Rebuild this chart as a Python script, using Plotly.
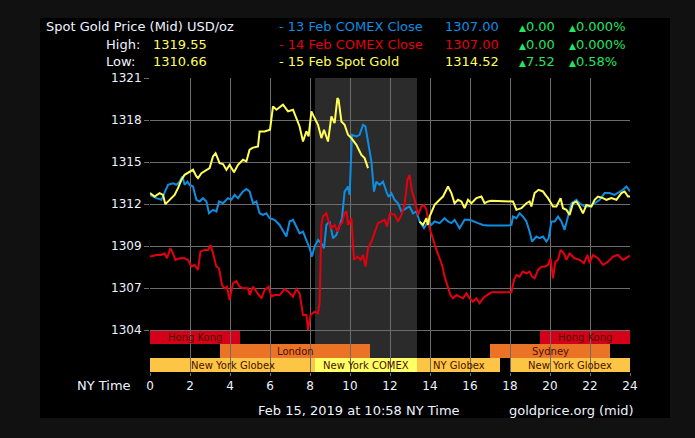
import plotly.graph_objects as go

# ---------------- data ----------------
blue_hours = [0.0, 0.32, 0.57, 0.73, 0.9, 1.15, 1.32, 1.48, 1.62, 1.73, 1.87, 1.98, 2.15, 2.32, 2.48, 2.65, 2.82,
              2.95, 3.15, 3.32, 3.45, 3.65, 3.9, 4.07, 4.23, 4.4, 4.65, 4.82, 4.98, 5.15, 5.32, 5.48, 5.65, 5.82,
              5.98, 6.23, 6.48, 6.82, 6.98, 7.15, 7.32, 7.48, 7.65, 7.82, 7.98, 8.1, 8.23, 8.4, 8.57, 8.7, 8.82,
              8.98, 9.15, 9.32, 9.48, 9.6, 9.73, 9.9, 9.98, 10.1, 10.32, 10.48, 10.65, 10.77, 10.9, 11.07, 11.2,
              11.32, 11.48, 11.65, 11.82, 11.93, 12.07, 12.23, 12.4, 12.57, 12.82, 12.98, 13.15, 13.32, 13.48,
              13.7, 13.9, 14.07, 14.23, 14.48, 14.73, 14.9, 15.07, 15.23, 15.48, 15.73, 15.98, 16.15, 16.4, 16.65,
              16.9, 17.9, 18.07, 18.15, 18.32, 18.48, 18.65, 18.82, 18.98, 19.1, 19.32, 19.48, 19.65, 19.82, 19.93,
              20.07, 20.23, 20.4, 20.57, 20.73, 20.9, 21.07, 21.32, 21.48, 21.73, 21.98, 22.23, 22.48, 22.73, 22.98,
              23.23, 23.48, 23.65, 23.82, 24.0]
blue_values = [1312.74, 1312.52, 1312.41, 1312.86, 1313.41, 1313.52, 1313.41, 1313.63, 1313.97, 1313.41, 1313.63,
               1313.41, 1313.3, 1312.41, 1312.3, 1312.52, 1312.3, 1311.51, 1311.74, 1311.63, 1312.3, 1312.18,
               1312.52, 1312.41, 1312.74, 1312.52, 1312.97, 1313.14, 1312.97, 1312.18, 1312.3, 1311.51, 1311.4,
               1311.51, 1311.18, 1311.07, 1310.73, 1309.95, 1310.96, 1311.07, 1310.62, 1310.17, 1310.28, 1309.73,
               1309.17, 1308.61, 1309.28, 1309.73, 1309.5, 1309.17, 1310.73, 1310.96, 1309.84, 1310.06, 1310.73,
               1311.18, 1312.96, 1313.3, 1312.74, 1316.76, 1316.65, 1316.76, 1317.43, 1317.32, 1316.31, 1314.97,
               1312.96, 1313.63, 1313.41, 1313.63, 1312.96, 1312.6, 1312.86, 1312.41, 1312.18, 1311.63, 1311.85,
               1311.96, 1311.51, 1311.63, 1310.96, 1310.51, 1310.96, 1310.73, 1310.96, 1310.85, 1311.18, 1310.96,
               1310.85, 1311.07, 1310.51, 1311.07, 1311.07, 1310.96, 1310.85, 1310.73, 1310.69, 1310.69, 1310.73,
               1311.29, 1311.18, 1311.51, 1311.29, 1310.96, 1310.29, 1309.62, 1309.95, 1309.84, 1309.95, 1309.62,
               1309.84, 1310.96, 1310.96, 1311.29, 1310.96, 1310.4, 1311.29, 1312.18, 1312.41, 1312.18, 1311.96,
               1311.96, 1312.18, 1312.41, 1312.86, 1312.86, 1312.74, 1312.97, 1313.08, 1313.3, 1312.97]

red_hours = [0.0, 0.32, 0.57, 0.73, 0.85, 1.02, 1.15, 1.27, 1.48, 1.73, 1.9, 2.07, 2.23, 2.4, 2.52, 2.73, 2.9, 3.03,
             3.15, 3.32, 3.45, 3.6, 3.73, 3.85, 3.98, 4.15, 4.32, 4.48, 4.65, 4.9, 4.98, 5.15, 5.32, 5.57, 5.73,
             5.93, 6.07, 6.23, 6.48, 6.73, 6.9, 7.15, 7.32, 7.48, 7.65, 7.82, 7.9, 8.03, 8.23, 8.4, 8.48, 8.57,
             8.65, 8.82, 8.93, 9.07, 9.23, 9.37, 9.48, 9.6, 9.73, 9.83, 9.9, 10.07, 10.2, 10.37, 10.53, 10.65,
             10.78, 10.9, 11.07, 11.23, 11.4, 11.57, 11.73, 11.85, 12.0, 12.23, 12.4, 12.57, 12.73, 12.87, 12.98,
             13.1, 13.23, 13.4, 13.57, 13.7, 13.82, 13.98, 14.15, 14.32, 14.48, 14.6, 14.73, 14.9, 15.02, 15.15,
             15.32, 15.48, 15.65, 15.82, 15.98, 16.15, 16.32, 16.48, 16.65, 16.82, 17.07, 18.07, 18.2, 18.32,
             18.48, 18.65, 18.82, 18.98, 19.1, 19.23, 19.4, 19.57, 19.73, 19.9, 20.03, 20.15, 20.27, 20.4, 20.53,
             20.7, 20.82, 20.98, 21.23, 21.48, 21.7, 21.87, 21.98, 22.15, 22.4, 22.65, 22.9, 23.15, 23.4, 23.65,
             23.9, 24.0]
red_values = [1308.61, 1308.72, 1308.72, 1308.83, 1308.5, 1309.17, 1308.83, 1308.39, 1308.5, 1308.5, 1308.39,
              1307.94, 1308.05, 1307.72, 1308.94, 1309.06, 1309.06, 1309.39, 1308.83, 1307.94, 1307.83, 1306.71,
              1306.49, 1306.6, 1305.71, 1306.82, 1306.98, 1306.6, 1306.49, 1306.49, 1306.04, 1306.6, 1306.27,
              1305.82, 1306.38, 1306.6, 1305.93, 1306.04, 1306.04, 1306.44, 1306.27, 1305.93, 1306.44, 1306.15,
              1304.7, 1304.7, 1303.7, 1304.7, 1304.93, 1304.82, 1305.49, 1310.73, 1311.29, 1311.51, 1310.96,
              1310.51, 1310.73, 1310.28, 1310.73, 1310.85, 1311.51, 1311.63, 1310.73, 1311.18, 1308.39, 1308.61,
              1308.39, 1308.72, 1307.94, 1309.17, 1309.62, 1310.28, 1310.85, 1310.96, 1311.07, 1310.62, 1311.51,
              1311.4, 1310.96, 1311.4, 1312.07, 1313.75, 1314.08, 1312.96, 1312.41, 1311.4, 1311.96, 1312.07,
              1311.74, 1310.51, 1309.73, 1309.06, 1308.5, 1308.05, 1307.27, 1306.6, 1306.04, 1305.82, 1306.04,
              1305.93, 1305.82, 1306.15, 1305.82, 1305.6, 1305.82, 1305.49, 1305.82, 1306.0, 1306.22, 1306.22,
              1307.05, 1307.38, 1307.27, 1307.61, 1307.49, 1307.61, 1307.27, 1307.16, 1307.72, 1307.94, 1307.94,
              1308.05, 1308.5, 1307.16, 1308.27, 1308.39, 1309.06, 1308.83, 1308.39, 1308.83, 1308.5, 1308.39,
              1308.17, 1308.72, 1308.17, 1308.72, 1308.5, 1308.05, 1308.27, 1308.61, 1308.72, 1308.39, 1308.61,
              1308.67]

yellow_hours = [0.0, 0.23, 0.48, 0.65, 0.77, 0.98, 1.23, 1.4, 1.57, 1.73, 1.98, 2.15, 2.32, 2.4, 2.57, 2.82, 2.98,
                3.15, 3.28, 3.48, 3.65, 3.82, 3.98, 4.2, 4.4, 4.65, 4.82, 4.98, 5.15, 5.4, 5.48, 5.73, 6.0, 6.15,
                6.32, 6.65, 6.9, 7.15, 7.32, 7.48, 7.65, 7.82, 7.93, 8.07, 8.23, 8.4, 8.57, 8.7, 8.9, 9.07, 9.23,
                9.37, 9.43, 9.57, 9.73, 9.9, 10.07, 10.32, 10.57, 10.73, 10.9, 12.2,
                13.48, 13.65, 13.82, 13.9, 13.98, 14.23, 14.48, 14.65, 14.9, 15.07, 15.23, 15.4, 15.57, 15.73,
                15.9, 16.07, 16.32, 16.57, 16.73, 16.9, 17.07, 17.9, 18.15, 18.32, 18.57, 18.82, 18.98, 19.07,
                19.23, 19.43, 19.65, 19.77, 19.9, 20.15, 20.32, 20.53, 20.65, 20.82, 20.98, 21.15, 21.32, 21.48,
                21.65, 21.82, 22.07, 22.23, 22.4, 22.65, 22.82, 23.07, 23.32, 23.57, 23.73, 23.9, 24.0]
yellow_values = [1312.86, 1312.63, 1312.86, 1312.74, 1312.12, 1312.41, 1312.74, 1313.19, 1313.75, 1314.08, 1314.3,
                 1314.42, 1313.97, 1313.86, 1314.19, 1314.42, 1314.53, 1315.31, 1315.53, 1314.86, 1314.8, 1314.42,
                 1314.75, 1314.26, 1314.75, 1315.09, 1314.98, 1315.76, 1315.9, 1315.98, 1316.98, 1316.98, 1317.1,
                 1318.66, 1318.44, 1318.77, 1318.33, 1318.44, 1317.88, 1317.32, 1316.31, 1317.0, 1316.65, 1318.33,
                 1317.88, 1317.43, 1316.54, 1317.1, 1316.31, 1317.99, 1317.54, 1319.22, 1319.1, 1317.65, 1317.43,
                 1316.76, 1316.54, 1316.09, 1315.42, 1315.2, 1314.53, None,
                 1310.96, 1310.73, 1311.18, 1310.73, 1311.29, 1312.07, 1312.41, 1312.63, 1313.3, 1312.86, 1312.18,
                 1312.41, 1312.3, 1311.85, 1312.41, 1312.18, 1312.52, 1312.63, 1312.18, 1312.3, 1312.34, 1312.34,
                 1312.3, 1311.74, 1311.85, 1312.18, 1312.3, 1311.96, 1312.86, 1313.08, 1312.97, 1312.74, 1312.52,
                 1311.96, 1311.96, 1312.52, 1311.85, 1311.74, 1311.4, 1312.18, 1312.3, 1311.96, 1311.51, 1312.07,
                 1311.96, 1312.41, 1312.63, 1312.52, 1312.41, 1312.52, 1312.41, 1312.86, 1312.97, 1312.63, 1312.63]

y_tick_values = [1303.7, 1306.51, 1309.32, 1312.13, 1314.94, 1317.75, 1320.56]
y_tick_labels = ["1304", "1307", "1309", "1312", "1315", "1318", "1321"]
x_tick_values = [0, 2, 4, 6, 8, 10, 12, 14, 16, 18, 20, 22, 24]
x_tick_labels = ["0", "2", "4", "6", "8", "10", "12", "14", "16", "18", "20", "22", "24"]

comex_start, comex_end = 8.25, 13.35

session_names = ["Hong Kong", "Hong Kong", "London", "Sydney", "New York Globex", "New York COMEX",
                 "NY Globex", "New York Globex"]
session_starts = [0.0, 19.5, 3.5, 17.0, 0.0, 8.25, 13.35, 18.0]
session_ends = [4.5, 24.0, 11.0, 23.0, 8.25, 13.35, 17.5, 24.0]
session_rows = [0, 0, 1, 1, 2, 2, 2, 2]
session_colors = ["#d4001a", "#d4001a", "#eb7326", "#eb7326", "#fdc545", "#ffff66", "#fdc545", "#fdc545"]

header_series = ["- 13 Feb COMEX Close", "- 14 Feb COMEX Close", "- 15 Feb Spot Gold"]
header_prices = ["1307.00", "1307.00", "1314.52"]
header_changes = ["0.00", "0.00", "7.52"]
header_pcts = ["0.000%", "0.000%", "0.58%"]

BLUE, RED, YELLOW, GREEN = "#0d8ee2", "#e3000f", "#ffff55", "#22e560"
TEXT = "#eef3ff"
FONT = "DejaVu Sans"

# ---------------- geometry helpers ----------------
W, H = 695, 438
L, R, T, B = 150, 65, 78, 66


def px(x):
    return (x - L) / (W - L - R)


def py(y):
    return (H - B - y) / (H - T - B)


fig = go.Figure()
fig.add_trace(go.Scatter(x=blue_hours, y=blue_values, mode="lines", line=dict(color=BLUE, width=2),
                         hoverinfo="skip"))
fig.add_trace(go.Scatter(x=red_hours, y=red_values, mode="lines", line=dict(color=RED, width=2),
                         hoverinfo="skip"))
fig.add_trace(go.Scatter(x=yellow_hours, y=yellow_values, mode="lines", line=dict(color=YELLOW, width=2),
                         connectgaps=False, hoverinfo="skip"))

shapes = [
    dict(type="rect", xref="paper", yref="paper", x0=px(40), x1=px(670), y0=py(418), y1=py(18),
         fillcolor="#000000", line=dict(width=0), layer="below"),
    dict(type="rect", xref="x", yref="paper", x0=comex_start, x1=comex_end, y0=0, y1=1,
         fillcolor="#2b2b2b", line=dict(width=0), layer="below"),
]
row_h = 14 / (H - T - B)
annotations = []
for name, s, e, r, c in zip(session_names, session_starts, session_ends, session_rows, session_colors):
    y0 = (2 - r) * row_h
    shapes.append(dict(type="rect", xref="x", yref="paper", x0=s, x1=e, y0=y0, y1=y0 + row_h,
                       fillcolor=c, line=dict(width=0), layer="below"))
    annotations.append(dict(xref="x", yref="paper", x=(s + e) / 2, y=y0 + row_h / 2, text=name,
                            showarrow=False, xanchor="center", yanchor="middle",
                            font=dict(family=FONT, size=10, color="#4a1200")))


def txt(x, y, text, color=TEXT, anchor="left", size=13):
    annotations.append(dict(xref="paper", yref="paper", x=px(x), y=py(y), text=text, showarrow=False,
                            xanchor=anchor, yanchor="middle", font=dict(family=FONT, size=size, color=color)))


txt(44, 27, "Spot Gold Price (Mid) USD/oz")
txt(104, 45, "High:")
txt(104, 62, "Low:")
txt(151, 45, "1319.55", YELLOW)
txt(151, 62, "1310.66", YELLOW)
tri = '<span style="font-size:9px">▲</span>'
for i, (sname, col) in enumerate(zip(header_series, [BLUE, RED, YELLOW])):
    yy = 27 + i * 17.3
    txt(277, yy, sname, col)
    txt(501, yy, header_prices[i], col, anchor="right")
    txt(517, yy, tri + header_changes[i], GREEN)
    txt(567, yy, tri + header_pcts[i], GREEN)

txt(133, 385, "NY Time", anchor="right")
txt(256, 410, "Feb 15, 2019 at 10:58 NY Time")
txt(507, 410, "goldprice.org (mid)")

fig.update_layout(
    width=W, height=H,
    margin=dict(l=L, r=R, t=T, b=B, pad=0),
    paper_bgcolor="#111111", plot_bgcolor="rgba(0,0,0,0)",
    showlegend=False,
    shapes=shapes, annotations=annotations,
    font=dict(family=FONT, color=TEXT, size=12),
    xaxis=dict(range=[0, 24], tickmode="array", tickvals=x_tick_values, ticktext=x_tick_labels,
               showgrid=True, gridcolor="#6c6c6c", gridwidth=1, zeroline=False, showline=False,
               ticks="outside", ticklen=3, tickcolor="#6c6c6c", fixedrange=True,
               tickfont=dict(family=FONT, size=12, color=TEXT)),
    yaxis=dict(range=[1300.89, 1320.56], tickmode="array", tickvals=y_tick_values, ticktext=y_tick_labels,
               showgrid=True, gridcolor="#6c6c6c", gridwidth=1, zeroline=False, showline=False,
               ticks="outside", ticklen=5, tickcolor="#6c6c6c", fixedrange=True,
               tickfont=dict(family=FONT, size=12, color=TEXT)),
)

fig.write_html("out.html", config={"displayModeBar": False},
               post_script="document.body.style.margin='0';document.body.style.overflow='hidden';"
                           "document.body.style.background='#111111';")
